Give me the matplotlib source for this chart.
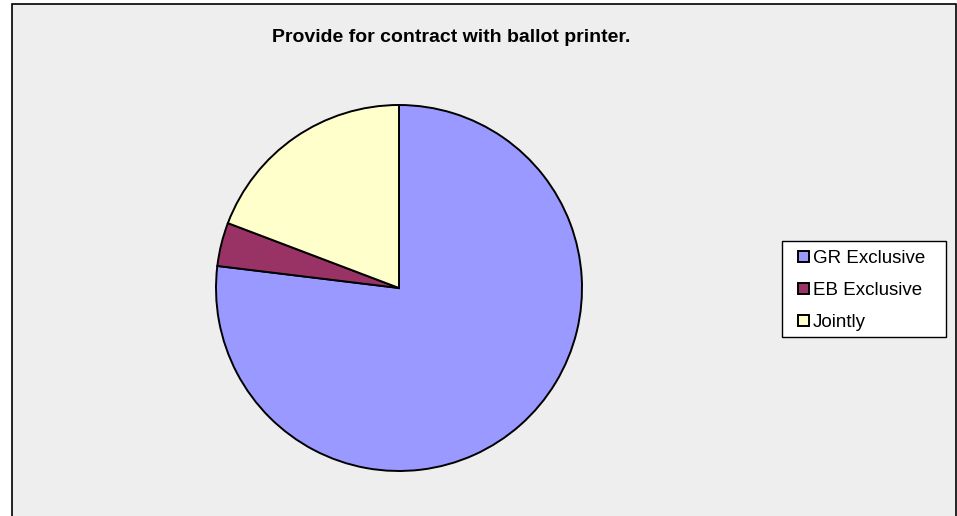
import matplotlib.pyplot as plt
from matplotlib.patches import Rectangle, Patch

# data
labels = ['GR Exclusive', 'EB Exclusive', 'Jointly']
counts = [20, 1, 5]
colors = ['#9999FF', '#993366', '#FFFFCC']
title = 'Provide for contract with ballot printer.'

plt.rcParams['font.family'] = ['Liberation Sans', 'DejaVu Sans']

W, H = 957, 516
fig = plt.figure(figsize=(W / 100, H / 100), dpi=100)
fig.patch.set_facecolor('white')

# one axes over the whole figure, units = pixels (y up)
ax = fig.add_axes([0, 0, 1, 1])
ax.set_facecolor('none')

# chart area frame (runs off the bottom of the picture)
ax.add_patch(Rectangle((12, -10), 944, H - 3.5 + 10, facecolor='#EEEEEE',
                       edgecolor='black', linewidth=1.2, zorder=0))

ax.pie(counts, colors=colors, startangle=90, counterclock=False,
       center=(399, H - 288), radius=183,
       wedgeprops=dict(edgecolor='black', linewidth=1.4, zorder=2))
ax.set_xlim(0, W)
ax.set_ylim(0, H)
ax.set_aspect('equal')
ax.axis('off')

fig.text(451 / W, 1 - 37 / H, title, ha='center', va='center',
         fontsize=14, fontweight='bold')

# legend box
ax.add_patch(Rectangle((782, H - 337), 946 - 782, 337 - 241, facecolor='white',
                       edgecolor='black', linewidth=1.0, zorder=3))
handles = [Patch(facecolor=c, edgecolor='black', linewidth=1.4) for c in colors]
leg = fig.legend(handles, labels, loc='upper left',
                 bbox_to_anchor=(798 / W, 1 - 250 / H),
                 fontsize=13.5, frameon=False,
                 handlelength=0.58, handleheight=0.55, handletextpad=0.2,
                 labelspacing=0.8, borderpad=0, borderaxespad=0)
leg.set_zorder(5)

plt.savefig('out.png', dpi=100)
